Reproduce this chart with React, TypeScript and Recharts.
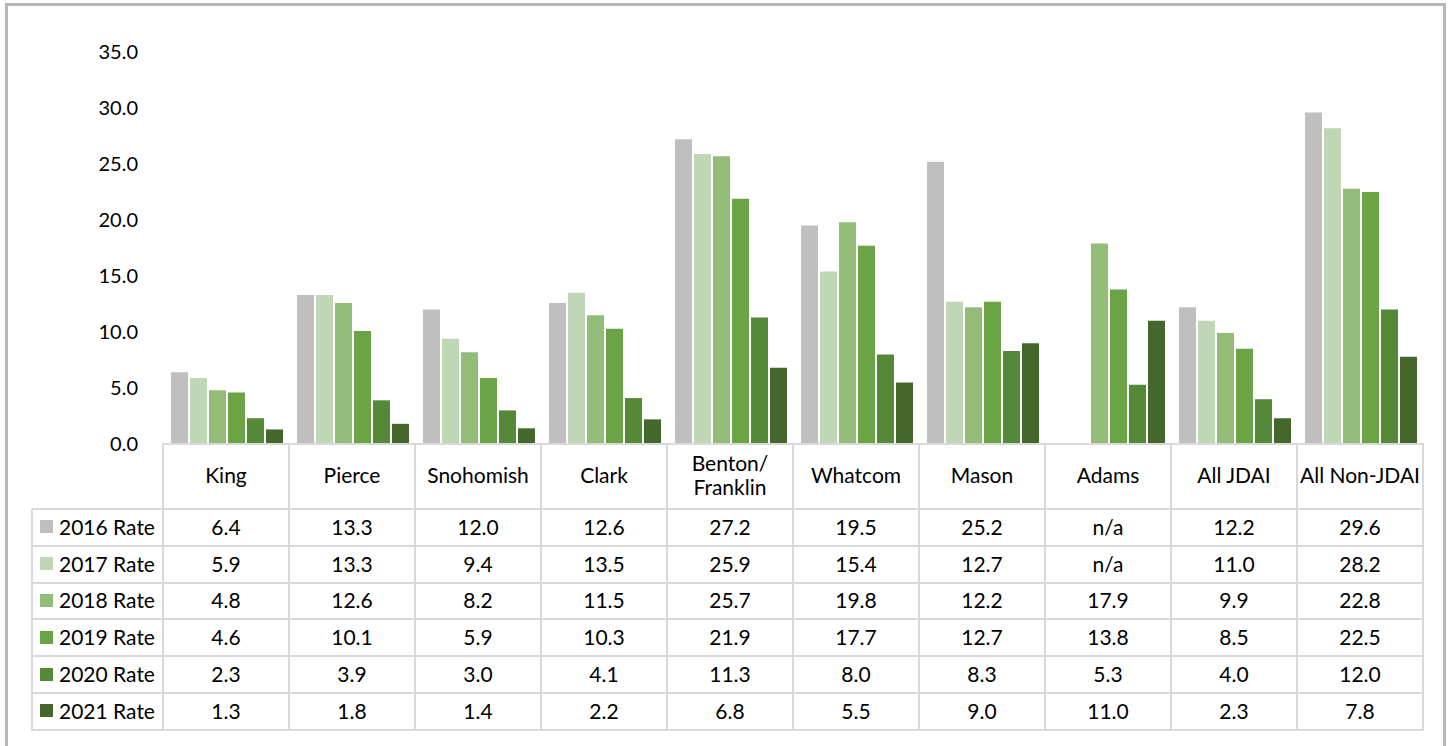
import React from "react";
import { BarChart, Bar, XAxis, YAxis } from "recharts";

const counties = ["King", "Pierce", "Snohomish", "Clark", "Benton/\nFranklin", "Whatcom", "Mason", "Adams", "All JDAI", "All Non-JDAI"];
const rate2016 = [6.4, 13.3, 12.0, 12.6, 27.2, 19.5, 25.2, null, 12.2, 29.6];
const rate2017 = [5.9, 13.3, 9.4, 13.5, 25.9, 15.4, 12.7, null, 11.0, 28.2];
const rate2018 = [4.8, 12.6, 8.2, 11.5, 25.7, 19.8, 12.2, 17.9, 9.9, 22.8];
const rate2019 = [4.6, 10.1, 5.9, 10.3, 21.9, 17.7, 12.7, 13.8, 8.5, 22.5];
const rate2020 = [2.3, 3.9, 3.0, 4.1, 11.3, 8.0, 8.3, 5.3, 4.0, 12.0];
const rate2021 = [1.3, 1.8, 1.4, 2.2, 6.8, 5.5, 9.0, 11.0, 2.3, 7.8];
const yTicks = [0, 5, 10, 15, 20, 25, 30, 35];

const series = [
  { key: "r2016", name: "2016 Rate", values: rate2016, color: "#bfbfbf" },
  { key: "r2017", name: "2017 Rate", values: rate2017, color: "#bfd7b5" },
  { key: "r2018", name: "2018 Rate", values: rate2018, color: "#93bc79" },
  { key: "r2019", name: "2019 Rate", values: rate2019, color: "#6aa444" },
  { key: "r2020", name: "2020 Rate", values: rate2020, color: "#548937" },
  { key: "r2021", name: "2021 Rate", values: rate2021, color: "#44682b" },
];

const data = counties.map((c, i) => {
  const row: Record<string, string | number | null> = { county: c };
  series.forEach((s) => (row[s.key] = s.values[i]));
  return row;
});

const FONT = "Lato, 'Open Sans', sans-serif";
const LINE = "#d9d9d9";
const PLOT_LEFT = 163;
const COL_W = 126;
const TABLE_LEFT = 32;
const AXIS_Y = 444;
const HEADER_BOTTOM = 509;
const ROW_H = 36.8;
const TXT = 21;

export default function App() {
  const tableRight = PLOT_LEFT + COL_W * counties.length;
  const tableBottom = HEADER_BOTTOM + ROW_H * series.length;

  const hLines = [
    { y: AXIS_Y, x1: PLOT_LEFT - 1, x2: tableRight },
    ...Array.from({ length: series.length + 1 }, (_, i) => ({
      y: HEADER_BOTTOM + ROW_H * i,
      x1: TABLE_LEFT,
      x2: tableRight,
    })),
  ];
  const vLines = [
    { x: TABLE_LEFT, y1: HEADER_BOTTOM, y2: tableBottom },
    ...Array.from({ length: counties.length + 1 }, (_, i) => ({
      x: PLOT_LEFT + COL_W * i,
      y1: AXIS_Y,
      y2: tableBottom,
    })),
  ];

  return (
    <div style={{ position: "absolute", left: 0, top: 0, width: 1450, height: 746, background: "#fff", overflow: "hidden", fontFamily: FONT }}>
      <div style={{ position: "absolute", left: 5, top: 3, width: 1435, height: 800, border: "3px solid #b8b8b8", borderBottom: "none" }} />

      <div style={{ position: "absolute", left: 0, top: 0 }}>
        <BarChart
          width={1450}
          height={460}
          data={data}
          margin={{ top: 52, right: 1450 - tableRight, bottom: 16, left: 0 }}
          barCategoryGap={8}
          barGap={2}
        >
          <XAxis dataKey="county" hide />
          <YAxis
            width={PLOT_LEFT}
            domain={[0, 35]}
            ticks={yTicks}
            interval={0}
            axisLine={false}
            tickLine={false}
            tickSize={0}
            tickMargin={25}
            tickFormatter={(v: number) => v.toFixed(1)}
            tick={{ fontSize: 20, fill: "#000", fontFamily: FONT }}
          />
          {series.map((s) => (
            <Bar key={s.key} dataKey={s.key} name={s.name} fill={s.color} isAnimationActive={false} />
          ))}
        </BarChart>
      </div>

      {/* data table */}
      {hLines.map((l, i) => (
        <div key={"h" + i} style={{ position: "absolute", left: l.x1, top: l.y - 1, width: l.x2 - l.x1 + 1, height: 2, background: LINE }} />
      ))}
      {vLines.map((l, i) => (
        <div key={"v" + i} style={{ position: "absolute", left: l.x - 1, top: l.y1, width: 2, height: l.y2 - l.y1 + 1, background: LINE }} />
      ))}

      {counties.map((c, i) => (
        <div
          key={c}
          style={{
            position: "absolute",
            left: PLOT_LEFT + COL_W * i,
            top: AXIS_Y - 2,
            width: COL_W,
            height: HEADER_BOTTOM - AXIS_Y,
            display: "flex",
            alignItems: "center",
            justifyContent: "center",
            textAlign: "center",
            fontSize: TXT,
            lineHeight: "24px",
            whiteSpace: "pre-line",
            color: "#000",
          }}
        >
          {c}
        </div>
      ))}

      {series.map((s, r) => {
        const top = HEADER_BOTTOM + ROW_H * r - 1;
        return (
          <React.Fragment key={s.key}>
            <div style={{ position: "absolute", left: 40, top: top + ROW_H / 2 - 6, width: 13, height: 13, background: s.color }} />
            <div style={{ position: "absolute", left: 59, top, height: ROW_H, display: "flex", alignItems: "center", fontSize: TXT, color: "#000", whiteSpace: "nowrap" }}>
              {s.name}
            </div>
            {s.values.map((v, i) => (
              <div
                key={i}
                style={{
                  position: "absolute",
                  left: PLOT_LEFT + COL_W * i,
                  top,
                  width: COL_W,
                  height: ROW_H,
                  display: "flex",
                  alignItems: "center",
                  justifyContent: "center",
                  fontSize: TXT,
                  color: "#000",
                }}
              >
                {v === null ? "n/a" : v.toFixed(1)}
              </div>
            ))}
          </React.Fragment>
        );
      })}
    </div>
  );
}
